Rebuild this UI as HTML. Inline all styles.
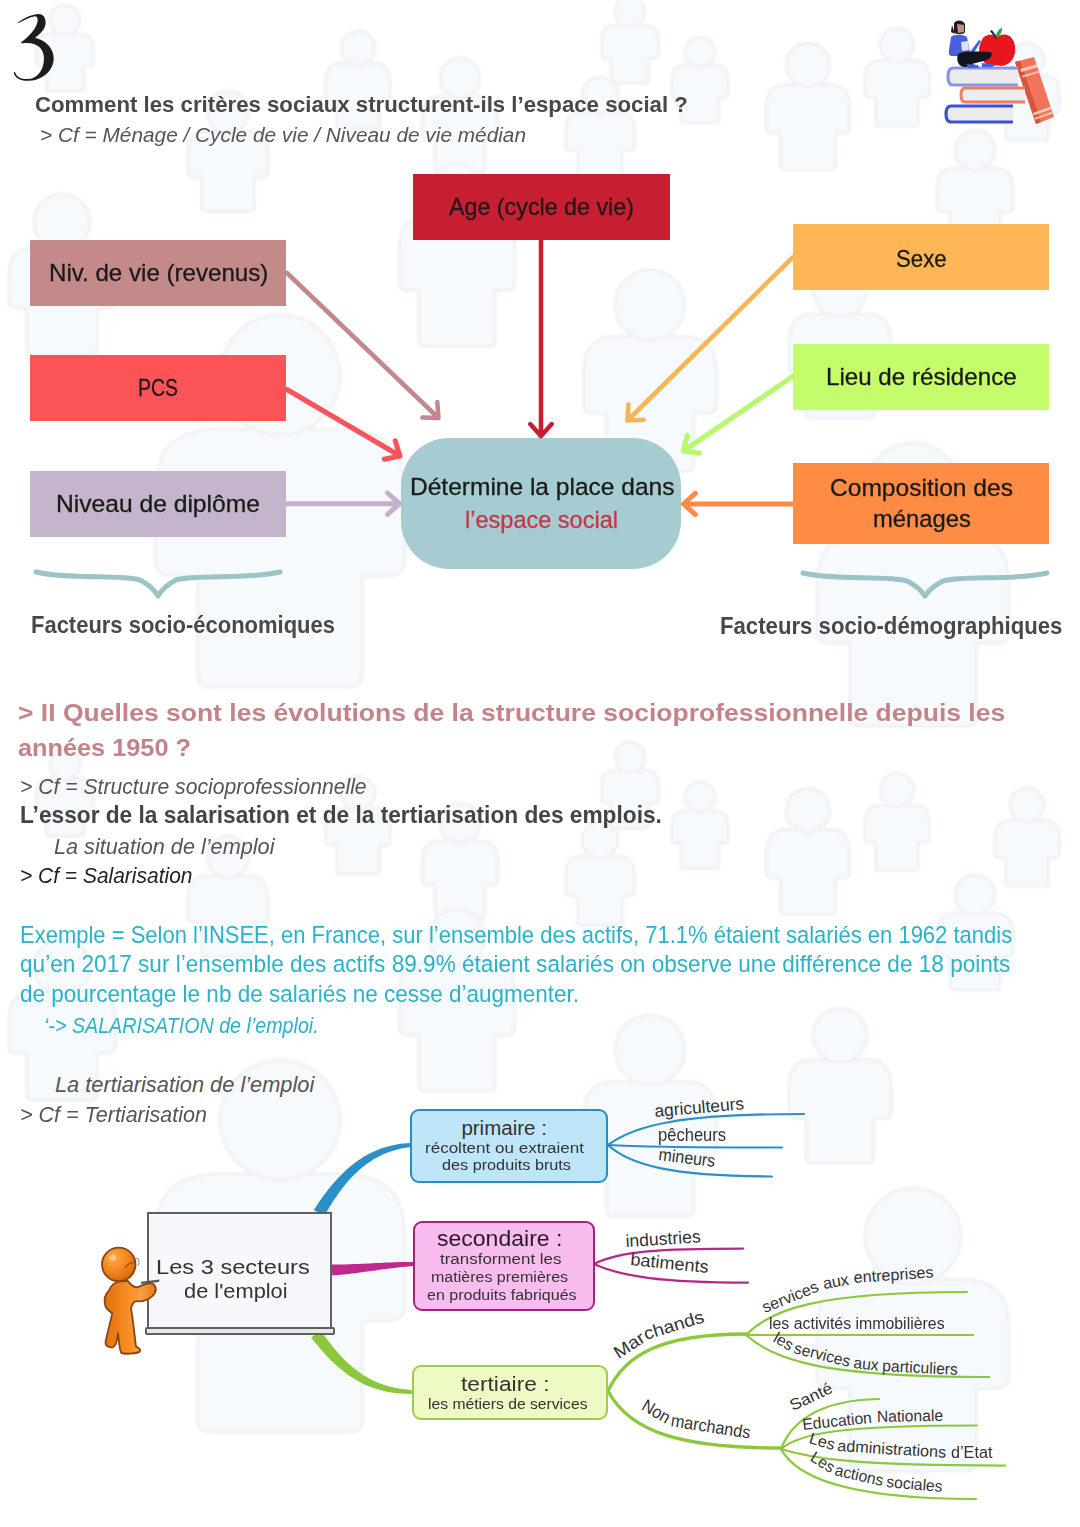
<!DOCTYPE html>
<html><head><meta charset="utf-8">
<style>
html,body{margin:0;padding:0;background:#fff;}
body{width:1080px;height:1527px;position:relative;overflow:hidden;font-family:"Liberation Sans",sans-serif;}
.t{position:absolute;white-space:nowrap;line-height:1;transform-origin:0 0;}
.k{-webkit-text-stroke:0.3px currentColor;}
.box{position:absolute;}
svg{position:absolute;left:0;top:0;}
</style></head>
<body>

<svg width="1080" height="1527" viewBox="0 0 1080 1527" style="filter:blur(0.8px)"><defs><clipPath id="bgc"><rect x="0" y="0" width="1080" height="1445"/></clipPath></defs><g fill="#f7fafc" stroke="#eff1f3" stroke-width="3"><path d="M613.5,25.5 C603.8,26.2 601.5,33.0 601.5,42.0 L601.5,54.7 Q601.5,58.4 606.0,58.4 L611.2,58.4 L611.2,80.2 Q611.2,83.2 614.2,83.2 L645.8,83.2 Q648.8,83.2 648.8,80.2 L648.8,58.4 L654.0,58.4 Q658.5,58.4 658.5,54.7 L658.5,42.0 C658.5,33.0 656.2,26.2 646.5,25.5 Z"/><circle cx="630.0" cy="12.0" r="15.0"/><path d="M683.5,65.5 C673.8,66.2 671.5,73.0 671.5,82.0 L671.5,94.7 Q671.5,98.4 676.0,98.4 L681.2,98.4 L681.2,120.2 Q681.2,123.2 684.2,123.2 L715.8,123.2 Q718.8,123.2 718.8,120.2 L718.8,98.4 L724.0,98.4 Q728.5,98.4 728.5,94.7 L728.5,82.0 C728.5,73.0 726.2,66.2 716.5,65.5 Z"/><circle cx="700.0" cy="52.0" r="15.0"/><path d="M783.8,84.8 C769.5,85.9 766.2,95.8 766.2,109.0 L766.2,127.6 Q766.2,133.1 772.8,133.1 L780.4,133.1 L780.4,165.1 Q780.4,169.5 784.8,169.5 L831.2,169.5 Q835.6,169.5 835.6,165.1 L835.6,133.1 L843.2,133.1 Q849.8,133.1 849.8,127.6 L849.8,109.0 C849.8,95.8 846.5,85.9 832.2,84.8 Z"/><circle cx="808.0" cy="65.0" r="22.0"/><path d="M878.3,60.3 C867.2,61.1 864.7,68.8 864.7,79.0 L864.7,93.4 Q864.7,97.6 869.8,97.6 L875.7,97.6 L875.7,122.3 Q875.7,125.8 879.1,125.8 L914.9,125.8 Q918.3,125.8 918.3,122.3 L918.3,97.6 L924.2,97.6 Q929.3,97.6 929.3,93.4 L929.3,79.0 C929.3,68.8 926.8,61.1 915.7,60.3 Z"/><circle cx="897.0" cy="45.0" r="17.0"/><path d="M580.2,111.2 C568.5,112.1 565.8,120.2 565.8,131.0 L565.8,146.2 Q565.8,150.7 571.2,150.7 L577.4,150.7 L577.4,176.9 Q577.4,180.5 581.0,180.5 L619.0,180.5 Q622.6,180.5 622.6,176.9 L622.6,150.7 L628.8,150.7 Q634.2,150.7 634.2,146.2 L634.2,131.0 C634.2,120.2 631.5,112.1 619.8,111.2 Z"/><circle cx="600.0" cy="95.0" r="18.0"/><path d="M953.0,168.0 C940.0,169.0 937.0,178.0 937.0,190.0 L937.0,206.9 Q937.0,211.9 943.0,211.9 L949.9,211.9 L949.9,241.0 Q949.9,245.0 953.9,245.0 L996.1,245.0 Q1000.1,245.0 1000.1,241.0 L1000.1,211.9 L1007.0,211.9 Q1013.0,211.9 1013.0,206.9 L1013.0,190.0 C1013.0,178.0 1010.0,169.0 997.0,168.0 Z"/><circle cx="975.0" cy="150.0" r="20.0"/><path d="M611.5,336.5 C588.8,338.2 583.5,354.0 583.5,375.0 L583.5,404.6 Q583.5,413.3 594.0,413.3 L606.1,413.3 L606.1,464.2 Q606.1,471.2 613.1,471.2 L686.9,471.2 Q693.9,471.2 693.9,464.2 L693.9,413.3 L706.0,413.3 Q716.5,413.3 716.5,404.6 L716.5,375.0 C716.5,354.0 711.2,338.2 688.5,336.5 Z"/><circle cx="650.0" cy="305.0" r="35.0"/><path d="M810.3,314.3 C792.8,315.6 788.7,327.8 788.7,344.0 L788.7,366.8 Q788.7,373.6 796.8,373.6 L806.1,373.6 L806.1,412.9 Q806.1,418.2 811.5,418.2 L868.5,418.2 Q873.9,418.2 873.9,412.9 L873.9,373.6 L883.2,373.6 Q891.3,373.6 891.3,366.8 L891.3,344.0 C891.3,327.8 887.2,315.6 869.7,314.3 Z"/><circle cx="840.0" cy="290.0" r="27.0"/><path d="M1008.3,75.3 C997.2,76.2 994.7,83.8 994.7,94.0 L994.7,108.4 Q994.7,112.6 999.8,112.6 L1005.7,112.6 L1005.7,137.3 Q1005.7,140.8 1009.1,140.8 L1044.9,140.8 Q1048.3,140.8 1048.3,137.3 L1048.3,112.6 L1054.2,112.6 Q1059.3,112.6 1059.3,108.4 L1059.3,94.0 C1059.3,83.8 1056.8,76.2 1045.7,75.3 Z"/><circle cx="1027.0" cy="60.0" r="17.0"/><path d="M48.5,33.5 C38.8,34.2 36.5,41.0 36.5,50.0 L36.5,62.7 Q36.5,66.4 41.0,66.4 L46.2,66.4 L46.2,88.2 Q46.2,91.2 49.2,91.2 L80.8,91.2 Q83.8,91.2 83.8,88.2 L83.8,66.4 L89.0,66.4 Q93.5,66.4 93.5,62.7 L93.5,50.0 C93.5,41.0 91.2,34.2 81.5,33.5 Z"/><circle cx="65.0" cy="20.0" r="15.0"/><path d="M339.3,63.3 C328.2,64.2 325.7,71.8 325.7,82.0 L325.7,96.4 Q325.7,100.6 330.8,100.6 L336.7,100.6 L336.7,125.3 Q336.7,128.8 340.1,128.8 L375.9,128.8 Q379.3,128.8 379.3,125.3 L379.3,100.6 L385.2,100.6 Q390.3,100.6 390.3,96.4 L390.3,82.0 C390.3,71.8 387.8,64.2 376.7,63.3 Z"/><circle cx="358.0" cy="48.0" r="17.0"/><path d="M438.0,96.0 C425.0,97.0 422.0,106.0 422.0,118.0 L422.0,134.9 Q422.0,139.9 428.0,139.9 L434.9,139.9 L434.9,169.0 Q434.9,173.0 438.9,173.0 L481.1,173.0 Q485.1,173.0 485.1,169.0 L485.1,139.9 L492.0,139.9 Q498.0,139.9 498.0,134.9 L498.0,118.0 C498.0,106.0 495.0,97.0 482.0,96.0 Z"/><circle cx="460.0" cy="78.0" r="20.0"/><path d="M204.9,130.9 C191.2,131.9 188.1,141.4 188.1,154.0 L188.1,171.7 Q188.1,177.0 194.4,177.0 L201.7,177.0 L201.7,207.6 Q201.7,211.8 205.9,211.8 L250.1,211.8 Q254.3,211.8 254.3,207.6 L254.3,177.0 L261.6,177.0 Q267.9,177.0 267.9,171.7 L267.9,154.0 C267.9,141.4 264.8,131.9 251.1,130.9 Z"/><circle cx="228.0" cy="112.0" r="21.0"/><path d="M31.2,247.2 C13.0,248.6 8.8,261.2 8.8,278.0 L8.8,301.6 Q8.8,308.6 17.2,308.6 L26.9,308.6 L26.9,349.4 Q26.9,355.0 32.5,355.0 L91.5,355.0 Q97.1,355.0 97.1,349.4 L97.1,308.6 L106.8,308.6 Q115.2,308.6 115.2,301.6 L115.2,278.0 C115.2,261.2 111.0,248.6 92.8,247.2 Z"/><circle cx="62.0" cy="222.0" r="28.0"/><path d="M214.0,429.0 C164.2,432.0 155.2,459.0 155.2,495.0 L155.2,561.1 Q155.2,576.1 173.2,576.1 L197.6,576.1 L197.6,675.0 Q197.6,687.0 209.6,687.0 L350.4,687.0 Q362.4,687.0 362.4,675.0 L362.4,576.1 L386.8,576.1 Q404.8,576.1 404.8,561.1 L404.8,495.0 C404.8,459.0 395.8,432.0 346.0,429.0 Z"/><circle cx="280.0" cy="375.0" r="60.0"/><path d="M860.2,534.2 C824.2,536.6 817.0,558.2 817.0,587.0 L817.0,631.6 Q817.0,643.6 831.4,643.6 L849.6,643.6 L849.6,716.6 Q849.6,726.2 859.2,726.2 L966.8,726.2 Q976.4,726.2 976.4,716.6 L976.4,643.6 L994.6,643.6 Q1009.0,643.6 1009.0,631.6 L1009.0,587.0 C1009.0,558.2 1001.8,536.6 965.8,534.2 Z"/><circle cx="913.0" cy="491.0" r="48.0"/><path d="M426.2,217.2 C403.5,218.6 399.3,231.2 399.3,248.0 L399.3,283.6 Q399.3,290.6 407.7,290.6 L418.9,290.6 L418.9,340.4 Q418.9,346.0 424.5,346.0 L489.5,346.0 Q495.1,346.0 495.1,340.4 L495.1,290.6 L506.3,290.6 Q514.7,290.6 514.7,283.6 L514.7,248.0 C514.7,231.2 510.5,218.6 487.8,217.2 Z"/><circle cx="457.0" cy="192.0" r="28.0"/><path d="M613.5,770.5 C603.8,771.2 601.5,778.0 601.5,787.0 L601.5,799.7 Q601.5,803.4 606.0,803.4 L611.2,803.4 L611.2,825.2 Q611.2,828.2 614.2,828.2 L645.8,828.2 Q648.8,828.2 648.8,825.2 L648.8,803.4 L654.0,803.4 Q658.5,803.4 658.5,799.7 L658.5,787.0 C658.5,778.0 656.2,771.2 646.5,770.5 Z"/><circle cx="630.0" cy="757.0" r="15.0"/><path d="M683.5,810.5 C673.8,811.2 671.5,818.0 671.5,827.0 L671.5,839.7 Q671.5,843.4 676.0,843.4 L681.2,843.4 L681.2,865.2 Q681.2,868.2 684.2,868.2 L715.8,868.2 Q718.8,868.2 718.8,865.2 L718.8,843.4 L724.0,843.4 Q728.5,843.4 728.5,839.7 L728.5,827.0 C728.5,818.0 726.2,811.2 716.5,810.5 Z"/><circle cx="700.0" cy="797.0" r="15.0"/><path d="M783.8,829.8 C769.5,830.9 766.2,840.8 766.2,854.0 L766.2,872.6 Q766.2,878.1 772.8,878.1 L780.4,878.1 L780.4,910.1 Q780.4,914.5 784.8,914.5 L831.2,914.5 Q835.6,914.5 835.6,910.1 L835.6,878.1 L843.2,878.1 Q849.8,878.1 849.8,872.6 L849.8,854.0 C849.8,840.8 846.5,830.9 832.2,829.8 Z"/><circle cx="808.0" cy="810.0" r="22.0"/><path d="M878.3,805.3 C867.2,806.1 864.7,813.8 864.7,824.0 L864.7,838.4 Q864.7,842.6 869.8,842.6 L875.7,842.6 L875.7,867.4 Q875.7,870.8 879.1,870.8 L914.9,870.8 Q918.3,870.8 918.3,867.4 L918.3,842.6 L924.2,842.6 Q929.3,842.6 929.3,838.4 L929.3,824.0 C929.3,813.8 926.8,806.1 915.7,805.3 Z"/><circle cx="897.0" cy="790.0" r="17.0"/><path d="M580.2,856.2 C568.5,857.1 565.8,865.2 565.8,876.0 L565.8,891.2 Q565.8,895.7 571.2,895.7 L577.4,895.7 L577.4,921.9 Q577.4,925.5 581.0,925.5 L619.0,925.5 Q622.6,925.5 622.6,921.9 L622.6,895.7 L628.8,895.7 Q634.2,895.7 634.2,891.2 L634.2,876.0 C634.2,865.2 631.5,857.1 619.8,856.2 Z"/><circle cx="600.0" cy="840.0" r="18.0"/><path d="M953.0,913.0 C940.0,914.0 937.0,923.0 937.0,935.0 L937.0,951.9 Q937.0,956.9 943.0,956.9 L949.9,956.9 L949.9,986.0 Q949.9,990.0 953.9,990.0 L996.1,990.0 Q1000.1,990.0 1000.1,986.0 L1000.1,956.9 L1007.0,956.9 Q1013.0,956.9 1013.0,951.9 L1013.0,935.0 C1013.0,923.0 1010.0,914.0 997.0,913.0 Z"/><circle cx="975.0" cy="895.0" r="20.0"/><path d="M611.5,1081.5 C588.8,1083.2 583.5,1099.0 583.5,1120.0 L583.5,1149.6 Q583.5,1158.3 594.0,1158.3 L606.1,1158.3 L606.1,1209.2 Q606.1,1216.2 613.1,1216.2 L686.9,1216.2 Q693.9,1216.2 693.9,1209.2 L693.9,1158.3 L706.0,1158.3 Q716.5,1158.3 716.5,1149.6 L716.5,1120.0 C716.5,1099.0 711.2,1083.2 688.5,1081.5 Z"/><circle cx="650.0" cy="1050.0" r="35.0"/><path d="M810.3,1059.3 C792.8,1060.7 788.7,1072.8 788.7,1089.0 L788.7,1111.8 Q788.7,1118.6 796.8,1118.6 L806.1,1118.6 L806.1,1157.8 Q806.1,1163.2 811.5,1163.2 L868.5,1163.2 Q873.9,1163.2 873.9,1157.8 L873.9,1118.6 L883.2,1118.6 Q891.3,1118.6 891.3,1111.8 L891.3,1089.0 C891.3,1072.8 887.2,1060.7 869.7,1059.3 Z"/><circle cx="840.0" cy="1035.0" r="27.0"/><path d="M1008.3,820.3 C997.2,821.1 994.7,828.8 994.7,839.0 L994.7,853.4 Q994.7,857.6 999.8,857.6 L1005.7,857.6 L1005.7,882.4 Q1005.7,885.8 1009.1,885.8 L1044.9,885.8 Q1048.3,885.8 1048.3,882.4 L1048.3,857.6 L1054.2,857.6 Q1059.3,857.6 1059.3,853.4 L1059.3,839.0 C1059.3,828.8 1056.8,821.1 1045.7,820.3 Z"/><circle cx="1027.0" cy="805.0" r="17.0"/><path d="M48.5,778.5 C38.8,779.2 36.5,786.0 36.5,795.0 L36.5,807.7 Q36.5,811.4 41.0,811.4 L46.2,811.4 L46.2,833.2 Q46.2,836.2 49.2,836.2 L80.8,836.2 Q83.8,836.2 83.8,833.2 L83.8,811.4 L89.0,811.4 Q93.5,811.4 93.5,807.7 L93.5,795.0 C93.5,786.0 91.2,779.2 81.5,778.5 Z"/><circle cx="65.0" cy="765.0" r="15.0"/><path d="M339.3,808.3 C328.2,809.1 325.7,816.8 325.7,827.0 L325.7,841.4 Q325.7,845.6 330.8,845.6 L336.7,845.6 L336.7,870.4 Q336.7,873.8 340.1,873.8 L375.9,873.8 Q379.3,873.8 379.3,870.4 L379.3,845.6 L385.2,845.6 Q390.3,845.6 390.3,841.4 L390.3,827.0 C390.3,816.8 387.8,809.1 376.7,808.3 Z"/><circle cx="358.0" cy="793.0" r="17.0"/><path d="M438.0,841.0 C425.0,842.0 422.0,851.0 422.0,863.0 L422.0,879.9 Q422.0,884.9 428.0,884.9 L434.9,884.9 L434.9,914.0 Q434.9,918.0 438.9,918.0 L481.1,918.0 Q485.1,918.0 485.1,914.0 L485.1,884.9 L492.0,884.9 Q498.0,884.9 498.0,879.9 L498.0,863.0 C498.0,851.0 495.0,842.0 482.0,841.0 Z"/><circle cx="460.0" cy="823.0" r="20.0"/><path d="M204.9,875.9 C191.2,877.0 188.1,886.4 188.1,899.0 L188.1,916.7 Q188.1,922.0 194.4,922.0 L201.7,922.0 L201.7,952.5 Q201.7,956.8 205.9,956.8 L250.1,956.8 Q254.3,956.8 254.3,952.5 L254.3,922.0 L261.6,922.0 Q267.9,922.0 267.9,916.7 L267.9,899.0 C267.9,886.4 264.8,877.0 251.1,875.9 Z"/><circle cx="228.0" cy="857.0" r="21.0"/><path d="M31.2,992.2 C13.0,993.6 8.8,1006.2 8.8,1023.0 L8.8,1046.6 Q8.8,1053.6 17.2,1053.6 L26.9,1053.6 L26.9,1094.4 Q26.9,1100.0 32.5,1100.0 L91.5,1100.0 Q97.1,1100.0 97.1,1094.4 L97.1,1053.6 L106.8,1053.6 Q115.2,1053.6 115.2,1046.6 L115.2,1023.0 C115.2,1006.2 111.0,993.6 92.8,992.2 Z"/><circle cx="62.0" cy="967.0" r="28.0"/><path d="M214.0,1174.0 C164.2,1177.0 155.2,1204.0 155.2,1240.0 L155.2,1306.1 Q155.2,1321.1 173.2,1321.1 L197.6,1321.1 L197.6,1420.0 Q197.6,1432.0 209.6,1432.0 L350.4,1432.0 Q362.4,1432.0 362.4,1420.0 L362.4,1321.1 L386.8,1321.1 Q404.8,1321.1 404.8,1306.1 L404.8,1240.0 C404.8,1204.0 395.8,1177.0 346.0,1174.0 Z"/><circle cx="280.0" cy="1120.0" r="60.0"/><path d="M860.2,1279.2 C824.2,1281.6 817.0,1303.2 817.0,1332.0 L817.0,1376.6 Q817.0,1388.6 831.4,1388.6 L849.6,1388.6 L849.6,1461.6 Q849.6,1471.2 859.2,1471.2 L966.8,1471.2 Q976.4,1471.2 976.4,1461.6 L976.4,1388.6 L994.6,1388.6 Q1009.0,1388.6 1009.0,1376.6 L1009.0,1332.0 C1009.0,1303.2 1001.8,1281.6 965.8,1279.2 Z"/><circle cx="913.0" cy="1236.0" r="48.0"/><path d="M426.2,962.2 C403.5,963.6 399.3,976.2 399.3,993.0 L399.3,1028.6 Q399.3,1035.6 407.7,1035.6 L418.9,1035.6 L418.9,1085.4 Q418.9,1091.0 424.5,1091.0 L489.5,1091.0 Q495.1,1091.0 495.1,1085.4 L495.1,1035.6 L506.3,1035.6 Q514.7,1035.6 514.7,1028.6 L514.7,993.0 C514.7,976.2 510.5,963.6 487.8,962.2 Z"/><circle cx="457.0" cy="937.0" r="28.0"/></g></svg>
<svg style="left:5px;top:5px" width="60" height="85" viewBox="0 0 1078 1527"><path fill="#1c1c1c" d="M235,315 C320,250 450,175 590,162 C680,158 728,220 730,310 C732,420 650,510 540,588 C720,630 875,770 875,955 C875,1160 700,1345 430,1362 C280,1372 165,1300 158,1212 C165,1200 182,1205 186,1215 C205,1290 300,1338 430,1330 C570,1315 700,1180 700,960 C700,790 580,650 300,690 C290,680 292,668 305,660 C400,580 565,440 585,290 C595,220 565,195 520,205 C430,225 330,275 250,325 C238,330 228,322 235,315 Z"/></svg>
<svg style="left:930px;top:10px" width="140" height="125" viewBox="0 0 140 125">
<path d="M104,47 L85,52 L106,114 L124,107 Z" fill="#f0735a"/>
<path d="M85,52 L90,50.5 L111,112 L106,114 Z" fill="#d5553d"/>
<path d="M90.2,58.9 L106.4,54.2 L107.4,57.2 L91.1,62.0 Z M92.1,65.8 L108.6,60.8 L109.2,62.6 L92.7,67.6 Z M102.9,103.0 L120.6,96.8 L121.4,99.2 L103.7,105.4 Z M104.4,107.9 L122.2,101.6 L122.8,103.4 L104.9,109.8 Z" fill="#f9c8b8"/>
<path d="M88,58 H23 Q18,58 18,66.5 Q18,75 23,75 H88" fill="#ececf0" stroke="#8596e3" stroke-width="3.2"/>
<path d="M95,78 H35 Q31,78 31,85 Q31,92 35,92 H95" fill="#ececef" stroke="#ef7d64" stroke-width="3"/>
<path d="M83,96 H21 Q16,96 16,104 Q16,112 21,112 H83" fill="#ececef" stroke="#3b4fd2" stroke-width="3.2"/>
<path d="M53,28 C58,22 66,26 67,27 C70,24 80,22 84,32 C88,44 82,55 71,56 C68,55 66,55 63,56 C52,55 47,44 50,34 Z" fill="#e8161f"/>
<path d="M62,20 L67,27 L66,29 L60,21 Z" fill="#1d2450"/>
<path d="M66,25 C68,19 71,18 72,18 C72,23 70,26 66,27 Z" fill="#2aa84a"/>
<path d="M24,13 C27,9 33,10 35,14 L35,22 C33,25 26,25 24,22 Z" fill="#1a1a2a"/>
<path d="M22,15 L21,22 L25,24 Z" fill="#1a1a2a"/>
<path d="M27,14 L34,15 L34,22 L28,23 Z" fill="#c9907c"/>
<path d="M21,27 C24,24 33,24 37,27 L40,42 L49,30 L51,31 L42,46 L22,46 Q18,46 19,40 Z" fill="#4a5ee0"/>
<path d="M31,32 L38,31 L39,40 L32,41 Z" fill="#dfe3f0"/>
<path d="M28,44 C32,41 45,41 60,42 C63,43 62,48 57,50 L42,54 L48,56 L35,57 C28,57 26,50 28,44 Z" fill="#141420"/>
<path d="M37,54 L48,55 L49,58 L38,58 Z M52,53 L63,54 L63,57 L52,57 Z" fill="#4a5ee0"/>
</svg>
<div class="t" style="left:35.0px;top:93.5px;font-size:21.80px;font-weight:bold;color:#484848;transform:scaleX(1.0187);">Comment les critères sociaux structurent-ils l’espace social ?</div>
<div class="t" style="left:40.0px;top:124.2px;font-size:21.08px;font-style:italic;color:#555;transform:scaleX(0.9877);">&gt; Cf = Ménage / Cycle de vie / Niveau de vie médian</div>
<div class="box" style="left:413px;top:174px;width:257px;height:66px;background:#c81e32;"></div>
<div class="box" style="left:30px;top:240px;width:256px;height:66px;background:#c48a8a;"></div>
<div class="box" style="left:30px;top:355px;width:256px;height:66px;background:#fc5456;"></div>
<div class="box" style="left:30px;top:471px;width:256px;height:66px;background:#c4b4cc;"></div>
<div class="box" style="left:793px;top:224px;width:256px;height:66px;background:#feb657;"></div>
<div class="box" style="left:793px;top:344px;width:256px;height:66px;background:#c4fc6c;"></div>
<div class="box" style="left:793px;top:463px;width:256px;height:81px;background:#fe8c45;"></div>
<div class="box" style="left:401px;top:438px;width:280px;height:131px;background:#a6cbd0;border-radius:48px;"></div>
<svg width="1080" height="700" viewBox="0 0 1080 700" fill="none" stroke-linecap="round" stroke-linejoin="round"><path d="M287.0,273.0 L438.5,418.0 M422.5,417.5 L438.5,418.0 L437.3,402.0" stroke="#c4878d" stroke-width="4.5"/><path d="M287.0,389.5 L400.0,456.0 M384.3,459.2 L400.0,456.0 L395.2,440.7" stroke="#f4545a" stroke-width="5"/><path d="M287.0,503.7 L399.5,503.7 M387.6,514.4 L399.5,503.7 L387.6,493.0" stroke="#c4b0cc" stroke-width="5"/><path d="M541.0,240.0 L541.0,436.0 M530.3,424.1 L541.0,436.0 L551.7,424.1" stroke="#c81e32" stroke-width="4.5"/><path d="M792.5,257.5 L627.5,420.5 M628.4,404.5 L627.5,420.5 L643.5,419.8" stroke="#f8b458" stroke-width="4.6"/><path d="M792.5,376.6 L683.5,451.0 M687.3,435.5 L683.5,451.0 L699.4,453.1" stroke="#b8f870" stroke-width="5.2"/><path d="M792.5,504.0 L683.5,504.0 M695.4,493.3 L683.5,504.0 L695.4,514.7" stroke="#fb8c48" stroke-width="5"/><path d="M36,572 C70,580 120,574 140,580 Q152,586 158,596 Q164,586 176,580 C196,574 246,580 280,572" stroke="#9cc4c8" stroke-width="5"/><path d="M803,573 C837,581 887,575 907,581 Q919,587 925,596 Q931,587 943,581 C963,575 1013,581 1047,573" stroke="#9cc4c8" stroke-width="5"/></svg>
<div class="t k" style="left:449.0px;top:194.6px;font-size:24.71px;color:#1a1a1a;transform:scaleX(0.9420);">Age (cycle de vie)</div>
<div class="t k" style="left:48.6px;top:260.6px;font-size:24.71px;color:#1a1a1a;transform:scaleX(0.9762);">Niv. de vie (revenus)</div>
<div class="t k" style="left:138.0px;top:376.1px;font-size:24.71px;color:#1a1a1a;transform:scaleX(0.7874);">PCS</div>
<div class="t k" style="left:56.0px;top:491.8px;font-size:24.71px;color:#1a1a1a;transform:scaleX(0.9967);">Niveau de diplôme</div>
<div class="t k" style="left:896.0px;top:246.7px;font-size:23.98px;color:#1a1a1a;transform:scaleX(0.9276);">Sexe</div>
<div class="t k" style="left:826.0px;top:364.5px;font-size:24.71px;color:#1a1a1a;transform:scaleX(0.9775);">Lieu de résidence</div>
<div class="t k" style="left:830.0px;top:476.1px;font-size:24.71px;color:#1a1a1a;transform:scaleX(0.9944);">Composition des</div>
<div class="t k" style="left:873.0px;top:506.8px;font-size:24.71px;color:#1a1a1a;transform:scaleX(0.9641);">ménages</div>
<div class="t k" style="left:409.5px;top:474.5px;font-size:24.71px;color:#1a1a1a;transform:scaleX(0.9926);">Détermine la place dans</div>
<div class="t k" style="left:465.0px;top:507.5px;font-size:24.71px;color:#c03848;transform:scaleX(0.9522);">l’espace social</div>
<div class="t" style="left:31.0px;top:613.8px;font-size:23.26px;font-weight:bold;color:#484848;transform:scaleX(0.9447);">Facteurs socio-économiques</div>
<div class="t" style="left:720.0px;top:614.8px;font-size:23.26px;font-weight:bold;color:#484848;transform:scaleX(0.9534);">Facteurs socio-démographiques</div>
<div class="t" style="left:18.0px;top:701.1px;font-size:24.71px;font-weight:bold;color:#c48388;transform:scaleX(1.0725);">&gt; II Quelles sont les évolutions de la structure socioprofessionnelle depuis les</div>
<div class="t" style="left:18.0px;top:735.8px;font-size:24.71px;font-weight:bold;color:#c48388;transform:scaleX(1.0240);">années 1950 ?</div>
<div class="t" style="left:20.0px;top:775.5px;font-size:21.80px;font-style:italic;color:#555;transform:scaleX(0.9698);">&gt; Cf = Structure socioprofessionnelle</div>
<div class="t" style="left:20.0px;top:804.3px;font-size:23.26px;font-weight:bold;color:#444;transform:scaleX(0.9759);">L’essor de la salarisation et de la tertiarisation des emplois.</div>
<div class="t" style="left:54.0px;top:835.5px;font-size:21.80px;font-style:italic;color:#555;transform:scaleX(0.9942);">La situation de l’emploi</div>
<div class="t" style="left:20.0px;top:864.5px;font-size:21.80px;font-style:italic;color:#222;transform:scaleX(0.9617);">&gt; Cf = Salarisation</div>
<div class="t" style="left:20.4px;top:923.9px;font-size:23.26px;color:#2ab3c8;transform:scaleX(0.9460);">Exemple = Selon l’INSEE, en France, sur l’ensemble des actifs, 71.1% étaient salariés en 1962 tandis</div>
<div class="t" style="left:20.4px;top:953.3px;font-size:23.26px;color:#2ab3c8;transform:scaleX(0.9716);">qu’en 2017 sur l’ensemble des actifs 89.9% étaient salariés on observe une différence de 18 points</div>
<div class="t" style="left:20.4px;top:983.3px;font-size:23.26px;color:#2ab3c8;transform:scaleX(0.9676);">de pourcentage le nb de salariés ne cesse d’augmenter.</div>
<div class="t" style="left:43.7px;top:1014.5px;font-size:21.80px;font-style:italic;color:#2ab3c8;transform:scaleX(0.9029);">‘-&gt; SALARISATION de l’emploi.</div>
<div class="t" style="left:55.0px;top:1074.0px;font-size:21.80px;font-style:italic;color:#555;">La tertiarisation de l’emploi</div>
<div class="t" style="left:20.0px;top:1103.5px;font-size:21.80px;font-style:italic;color:#555;transform:scaleX(0.9871);">&gt; Cf = Tertiarisation</div>
<svg width="1080" height="1527" viewBox="0 0 1080 1527" fill="none" stroke-linecap="round"><path d="M324.1,1216.1 L326.6,1211.9 L329.0,1207.8 L331.5,1203.9 L333.9,1200.1 L336.4,1196.4 L338.9,1192.9 L341.4,1189.5 L344.0,1186.2 L346.5,1183.1 L349.1,1180.1 L351.7,1177.3 L354.4,1174.6 L357.1,1172.0 L359.8,1169.5 L362.5,1167.2 L365.3,1165.0 L368.2,1162.9 L371.1,1160.9 L374.1,1159.1 L377.1,1157.4 L380.1,1155.8 L383.3,1154.3 L386.5,1153.0 L389.8,1151.8 L393.1,1150.7 L396.6,1149.7 L400.1,1148.8 L403.7,1148.1 L407.4,1147.5 L411.2,1147.0 L410.8,1143.0 L406.9,1143.2 L403.0,1143.6 L399.2,1144.1 L395.5,1144.7 L391.8,1145.5 L388.1,1146.4 L384.5,1147.5 L381.0,1148.6 L377.5,1150.0 L374.1,1151.4 L370.7,1153.0 L367.4,1154.8 L364.1,1156.6 L360.9,1158.7 L357.7,1160.8 L354.6,1163.1 L351.5,1165.5 L348.4,1168.1 L345.4,1170.8 L342.4,1173.7 L339.4,1176.7 L336.5,1179.8 L333.6,1183.1 L330.7,1186.5 L327.8,1190.1 L325.0,1193.8 L322.2,1197.6 L319.4,1201.6 L316.6,1205.7 L313.9,1209.9 Z" fill="#2b8fc8"/><path d="M332.2,1275.5 L335.0,1275.3 L337.8,1275.0 L340.6,1274.8 L343.4,1274.5 L346.1,1274.2 L348.8,1273.9 L351.6,1273.6 L354.3,1273.2 L357.0,1272.9 L359.6,1272.5 L362.3,1272.2 L365.0,1271.8 L367.6,1271.5 L370.3,1271.1 L373.0,1270.7 L375.6,1270.4 L378.3,1270.0 L381.0,1269.6 L383.7,1269.3 L386.3,1268.9 L389.0,1268.6 L391.8,1268.3 L394.5,1267.9 L397.2,1267.6 L400.0,1267.3 L402.7,1267.0 L405.5,1266.7 L408.4,1266.5 L411.2,1266.2 L414.1,1266.0 L413.9,1262.0 L411.0,1262.0 L408.1,1262.0 L405.3,1262.0 L402.4,1262.1 L399.6,1262.1 L396.8,1262.2 L394.1,1262.3 L391.3,1262.4 L388.5,1262.5 L385.8,1262.6 L383.1,1262.7 L380.4,1262.9 L377.7,1263.0 L375.0,1263.1 L372.3,1263.3 L369.6,1263.4 L366.9,1263.5 L364.2,1263.7 L361.6,1263.8 L358.9,1263.9 L356.2,1264.0 L353.5,1264.1 L350.8,1264.2 L348.1,1264.3 L345.5,1264.4 L342.7,1264.4 L340.0,1264.5 L337.3,1264.5 L334.6,1264.5 L331.8,1264.5 Z" fill="#c0288e"/><path d="M311.2,1337.6 L314.2,1341.4 L317.3,1345.2 L320.3,1348.8 L323.4,1352.3 L326.4,1355.6 L329.5,1358.8 L332.6,1361.9 L335.6,1364.8 L338.7,1367.5 L341.9,1370.1 L345.0,1372.6 L348.2,1374.9 L351.4,1377.1 L354.7,1379.1 L357.9,1381.0 L361.2,1382.8 L364.6,1384.4 L368.0,1385.9 L371.4,1387.3 L374.9,1388.5 L378.4,1389.6 L382.0,1390.6 L385.7,1391.4 L389.4,1392.2 L393.1,1392.8 L396.9,1393.2 L400.8,1393.6 L404.8,1393.8 L408.8,1394.0 L412.9,1394.0 L413.1,1390.0 L409.1,1389.7 L405.2,1389.3 L401.4,1388.8 L397.7,1388.2 L394.1,1387.5 L390.5,1386.7 L387.1,1385.8 L383.7,1384.7 L380.5,1383.6 L377.2,1382.3 L374.1,1380.9 L371.0,1379.4 L368.0,1377.8 L365.0,1376.1 L362.1,1374.2 L359.2,1372.2 L356.3,1370.1 L353.5,1367.9 L350.7,1365.5 L348.0,1363.1 L345.2,1360.4 L342.5,1357.7 L339.8,1354.8 L337.1,1351.8 L334.4,1348.6 L331.7,1345.3 L329.0,1341.8 L326.3,1338.2 L323.6,1334.4 L320.8,1330.4 Z" fill="#8cc83c"/><path d="M608,1145 C635,1125 680,1114 804,1114" stroke="#2b8fc8" stroke-width="2.2"/><path d="M608,1145 C640,1147 700,1147.5 782,1147.5" stroke="#2b8fc8" stroke-width="2.2"/><path d="M608,1145 C630,1165 670,1176 772,1176.5" stroke="#2b8fc8" stroke-width="2.2"/><path d="M594,1264 C620,1251 660,1248.6 743,1248.6" stroke="#b4288c" stroke-width="2.2"/><path d="M594,1264 C620,1276 660,1282.6 748,1282.6" stroke="#b4288c" stroke-width="2.2"/><path d="M608,1391 C625,1355 660,1334 746,1334" stroke="#8cc83c" stroke-width="3.3"/><path d="M608,1391 C630,1432 680,1448 782,1448" stroke="#8cc83c" stroke-width="3.3"/><path d="M746,1335 C770,1310 815,1292 967,1292" stroke="#8cc83c" stroke-width="2.2"/><path d="M746,1335 L973,1335" stroke="#8cc83c" stroke-width="2.2"/><path d="M746,1335 C775,1360 820,1377 989,1377" stroke="#8cc83c" stroke-width="2.2"/><path d="M781,1449 C790,1425 815,1400 879,1399" stroke="#8cc83c" stroke-width="2.2"/><path d="M781,1449 C800,1433 840,1425.5 977,1425.5" stroke="#8cc83c" stroke-width="2.2"/><path d="M781,1449 C810,1458 850,1465.6 1005,1465.6" stroke="#8cc83c" stroke-width="2.2"/><path d="M781,1449 C795,1475 840,1499 976,1499" stroke="#8cc83c" stroke-width="2.2"/></svg>
<div class="box" style="left:410px;top:1109px;width:198px;height:74px;background:#bee6f8;border:2.5px solid #2a8cc0;border-radius:9px;box-sizing:border-box;"></div>
<div class="box" style="left:413px;top:1221px;width:182px;height:90px;background:#f9bcef;border:2.5px solid #a82080;border-radius:9px;box-sizing:border-box;"></div>
<div class="box" style="left:412px;top:1365px;width:196px;height:55px;background:#eefac4;border:2.5px solid #9ccc50;border-radius:9px;box-sizing:border-box;"></div>
<div class="box" style="left:147px;top:1212px;width:185px;height:117px;background:#f6f8fb;border:2px solid #606060;box-sizing:border-box;"></div>
<div class="box" style="left:145px;top:1327px;width:190px;height:8px;background:#e8e8e8;border:2px solid #606060;box-sizing:border-box;border-radius:2px;"></div>
<div class="t" style="left:155.7px;top:1255.8px;font-size:21.00px;color:#333;transform:scaleX(1.1255);">Les 3 secteurs</div>
<div class="t" style="left:184.4px;top:1279.5px;font-size:21.00px;color:#333;transform:scaleX(1.0388);">de l&#39;emploi</div>
<div class="t" style="left:461.4px;top:1118.2px;font-size:20.50px;color:#333;">primaire :</div>
<div class="t" style="left:425.0px;top:1142.2px;font-size:13.80px;color:#333;transform:scaleX(1.2337);">récoltent ou extraient</div>
<div class="t" style="left:442.0px;top:1159.3px;font-size:13.80px;color:#333;transform:scaleX(1.1760);">des produits bruts</div>
<div class="t" style="left:437.1px;top:1228.4px;font-size:22.00px;color:#2a1a28;transform:scaleX(1.0463);">secondaire :</div>
<div class="t" style="left:440.0px;top:1252.8px;font-size:13.80px;color:#333;transform:scaleX(1.2281);">transforment les</div>
<div class="t" style="left:431.2px;top:1271.3px;font-size:13.80px;color:#333;transform:scaleX(1.1609);">matières premières</div>
<div class="t" style="left:427.4px;top:1288.7px;font-size:13.80px;color:#333;transform:scaleX(1.1608);">en produits fabriqués</div>
<div class="t" style="left:461.4px;top:1373.6px;font-size:20.50px;color:#333;transform:scaleX(1.1098);">tertiaire :</div>
<div class="t" style="left:428.3px;top:1397.8px;font-size:13.80px;color:#333;transform:scaleX(1.1365);">les métiers de services</div>
<div class="t" style="left:655.4px;top:1102.6px;font-size:17.50px;color:#333;transform-origin:0.0px 14.8px;transform:rotate(-4.98deg) scaleX(0.9932);">agriculteurs</div>
<div class="t" style="left:658.3px;top:1126.9px;font-size:17.50px;color:#333;transform-origin:0.0px 14.8px;transform:rotate(0.00deg) scaleX(0.9459);">pêcheurs</div>
<div class="t" style="left:658.3px;top:1146.2px;font-size:17.50px;color:#333;transform-origin:0.0px 14.8px;transform:rotate(7.07deg) scaleX(0.9130);">mineurs</div>
<div class="t" style="left:626.0px;top:1232.8px;font-size:17.50px;color:#333;transform-origin:0.0px 14.8px;transform:rotate(-3.66deg) scaleX(1.0034);">industries</div>
<div class="t" style="left:630.0px;top:1251.2px;font-size:17.50px;color:#333;transform-origin:0.0px 14.8px;transform:rotate(5.86deg) scaleX(1.0336);">batiments</div>
<div class="t" style="left:618.5px;top:1344.5px;font-size:17.50px;color:#333;transform-origin:0px 14.8px;transform:rotate(-33.0deg) scaleX(1.1042);">Mar</div>
<div class="t" style="left:646.4px;top:1326.4px;font-size:17.50px;color:#333;transform-origin:0px 14.8px;transform:rotate(-17.0deg) scaleX(1.1042);">chands</div>
<div class="t" style="left:640.0px;top:1395.2px;font-size:17.50px;color:#333;transform-origin:0px 14.8px;transform:rotate(30.0deg) scaleX(0.9275);">Non </div>
<div class="t" style="left:669.7px;top:1412.3px;font-size:17.50px;color:#333;transform-origin:0px 14.8px;transform:rotate(9.0deg) scaleX(0.9275);">marchands</div>
<div class="t" style="left:765.0px;top:1299.5px;font-size:16.00px;color:#333;transform-origin:0px 13.5px;transform:rotate(-22.0deg) scaleX(1.0104);">services </div>
<div class="t" style="left:824.1px;top:1275.6px;font-size:16.00px;color:#333;transform-origin:0px 13.5px;transform:rotate(-10.0deg) scaleX(1.0104);">aux </div>
<div class="t" style="left:854.2px;top:1270.3px;font-size:16.00px;color:#333;transform-origin:0px 13.5px;transform:rotate(-4.0deg) scaleX(1.0104);">entreprises</div>
<div class="t" style="left:769.0px;top:1315.5px;font-size:16.00px;color:#333;transform-origin:0.0px 13.5px;transform:rotate(0.00deg) scaleX(0.9924);">les activités immobilières</div>
<div class="t" style="left:772.0px;top:1327.5px;font-size:16.00px;color:#333;transform-origin:0px 13.5px;transform:rotate(30.0deg) scaleX(0.9782);">les </div>
<div class="t" style="left:793.1px;top:1339.6px;font-size:16.00px;color:#333;transform-origin:0px 13.5px;transform:rotate(14.0deg) scaleX(0.9782);">services </div>
<div class="t" style="left:853.0px;top:1354.6px;font-size:16.00px;color:#333;transform-origin:0px 13.5px;transform:rotate(6.0deg) scaleX(0.9782);">aux </div>
<div class="t" style="left:882.4px;top:1357.7px;font-size:16.00px;color:#333;transform-origin:0px 13.5px;transform:rotate(3.0deg) scaleX(0.9782);">particuliers</div>
<div class="t" style="left:793.0px;top:1397.5px;font-size:16.00px;color:#333;transform-origin:0.0px 13.5px;transform:rotate(-24.86deg) scaleX(1.0809);">Santé</div>
<div class="t" style="left:803.3px;top:1416.5px;font-size:16.00px;color:#333;transform-origin:0px 13.5px;transform:rotate(-6.0deg) scaleX(0.9784);">Education </div>
<div class="t" style="left:876.9px;top:1408.7px;font-size:16.00px;color:#333;transform-origin:0px 13.5px;transform:rotate(-1.0deg) scaleX(0.9784);">Nationale</div>
<div class="t" style="left:807.8px;top:1429.5px;font-size:16.00px;color:#333;transform-origin:0px 13.5px;transform:rotate(16.0deg) scaleX(1.0131);">Les </div>
<div class="t" style="left:837.3px;top:1437.9px;font-size:16.00px;color:#333;transform-origin:0px 13.5px;transform:rotate(3.5deg) scaleX(1.0131);">administrations </div>
<div class="t" style="left:950.6px;top:1444.8px;font-size:16.00px;color:#333;transform-origin:0px 13.5px;transform:rotate(0.0deg) scaleX(1.0131);">d’Etat</div>
<div class="t" style="left:809.0px;top:1446.5px;font-size:16.00px;color:#333;transform-origin:0px 13.5px;transform:rotate(32.0deg) scaleX(0.9711);">Les </div>
<div class="t" style="left:833.9px;top:1462.0px;font-size:16.00px;color:#333;transform-origin:0px 13.5px;transform:rotate(13.0deg) scaleX(0.9711);">actions </div>
<div class="t" style="left:886.1px;top:1474.1px;font-size:16.00px;color:#333;transform-origin:0px 13.5px;transform:rotate(5.0deg) scaleX(0.9711);">sociales</div>
<svg style="left:95px;top:1235px" width="80" height="125" viewBox="0 0 977 1527">
<defs><radialGradient id="og" cx="0.35" cy="0.3" r="0.8"><stop offset="0" stop-color="#ffab45"/><stop offset="0.55" stop-color="#f2841c"/><stop offset="1" stop-color="#d0620a"/></radialGradient>
<linearGradient id="ob" x1="0" y1="0" x2="1" y2="0"><stop offset="0" stop-color="#e07010"/><stop offset="0.4" stop-color="#f68a20"/><stop offset="0.7" stop-color="#fba040"/><stop offset="1" stop-color="#e87a18"/></linearGradient></defs>
<path d="M560,572 L790,545 L780,575 L565,600 Z" fill="#505860"/>
<path fill="url(#ob)" stroke="#8a4510" stroke-width="22" stroke-linejoin="round" d="M300,565 C240,580 190,620 170,680 C120,720 100,800 130,880 C160,930 200,940 210,960 C190,1050 150,1200 130,1300 C120,1350 160,1380 220,1370 C250,1360 270,1300 280,1200 C290,1300 300,1400 320,1440 C360,1460 520,1450 550,1420 C560,1390 520,1370 500,1360 C480,1200 460,1000 440,900 C450,840 480,800 520,810 C600,820 700,770 735,700 C760,640 720,590 680,590 C640,590 560,620 520,640 C480,640 430,600 400,560 Z"/>
<circle cx="290" cy="360" r="205" fill="url(#og)" stroke="#8a4510" stroke-width="22"/>
<ellipse cx="215" cy="275" rx="45" ry="35" fill="#ffd0a0" opacity="0.8"/>
<path d="M370,400 C380,360 420,340 500,330" stroke="#8a4510" stroke-width="14" fill="none"/>
<path d="M500,280 C540,290 550,350 520,380" stroke="#9aa0a8" stroke-width="14" fill="none"/>
</svg>
</body></html>
